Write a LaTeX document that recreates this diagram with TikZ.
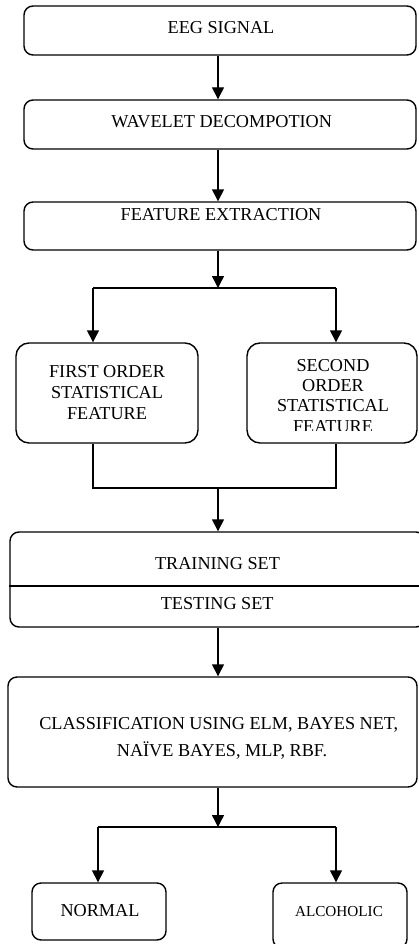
\documentclass[tikz,border=0pt]{standalone}
\usepackage{fontspec}
\setmainfont{Liberation Serif}
\usetikzlibrary{arrows.meta}

\tikzset{
  box/.style={draw, line width=1.4pt, rounded corners=9pt, inner sep=0pt},
  statbox/.style={box, rounded corners=13pt},
  conn/.style={line width=1.4pt},
  arr/.style={conn, -{Triangle[length=12pt,width=12pt]}},
  lbl/.style={inner sep=0pt, anchor=base, font=\fontsize{18.2}{21}\selectfont},
  smalllbl/.style={lbl, font=\fontsize{15.2}{18}\selectfont},
}

\begin{document}
\begin{tikzpicture}[x=1pt,y=-1pt]
\useasboundingbox (0,0) rectangle (419,944);

% process boxes
\node[box, minimum width=392pt, minimum height=49pt] (eeg) at (220,30.5) {};
\node[box, minimum width=392pt, minimum height=49pt] (wav) at (220,124.5) {};
\node[box, minimum width=392pt, minimum height=48pt] (fex) at (220,226) {};
\node[statbox, minimum width=182pt, minimum height=100pt] (fo) at (107,393) {};
\node[statbox, minimum width=170pt, minimum height=100pt] (so) at (332,393) {};
\node[box, minimum width=415pt, minimum height=95pt] (tr) at (217.5,579.5) {};
\node[box, minimum width=409pt, minimum height=110pt] (cls) at (212.5,732) {};
\node[box, minimum width=134pt, minimum height=57pt] (nor) at (99,911.5) {};
\node[box, minimum width=134pt, minimum height=65pt] (alc) at (340,915.5) {};

% divider between training and testing sets
\draw[conn] (tr.west |- 0,586) -- (tr.east |- 0,586);

% labels
\node[lbl] (teeg) at (221,33.3) {EEG SIGNAL};
\node[lbl] (twav) at (221.7,127.7) {WAVELET DECOMPOTION};
\node[lbl] (tfex) at (221,220) {FEATURE EXTRACTION};
\node[lbl] (tfo1) at (107,377.3) {FIRST ORDER};
\node[lbl] (tfo2) at (107,398.3) {STATISTICAL};
\node[lbl] (tfo3) at (107,419.3) {FEATURE};
\node[lbl] (tso1) at (333,371) {SECOND};
\node[lbl] (tso2) at (333,391.7) {ORDER};
\node[lbl] (tso3) at (333,411.7) {STATISTICAL};
\begin{scope}
  \clip (247,343) rectangle (417,430);
  \node[lbl] (tso4) at (333,432.3) {FEATURE};
\end{scope}
\node[lbl] (ttr) at (217.5,569) {TRAINING SET};
\node[lbl] (tte) at (217.2,609.3) {TESTING SET};
\node[lbl] (tcl1) at (218.8,729.3) {CLASSIFICATION USING ELM, BAYES NET,};
\node[lbl] (tcl2) at (222,756.7) {NAÏVE BAYES, MLP, RBF.};
\node[lbl] (tnor) at (100,916) {NORMAL};
\node[smalllbl] (talc) at (339,916) {ALCOHOLIC};

% connector waypoints
\coordinate (mid) at (218,0);
\coordinate (sl) at (93,288);
\coordinate (sr) at (336,288);
\coordinate (ml) at (93,488);
\coordinate (mr) at (336,488);
\coordinate (ol) at (98,827);
\coordinate (or) at (336,827);

% connectors
\draw[arr] (mid |- eeg.south) -- (mid |- wav.north);
\draw[arr] (mid |- wav.south) -- (mid |- fex.north);
\draw[arr] (mid |- fex.south) -- (mid |- sl);
\draw[conn] (sl) -- (sr);
\draw[arr] (sl) -- (sl |- fo.north);
\draw[arr] (sr) -- (sr |- so.north);
\draw[conn] (sl |- fo.south) -- (ml) -- (mr) -- (sr |- so.south);
\draw[arr] (mid |- ml) -- (mid |- tr.north);
\draw[arr] (mid |- tr.south) -- (mid |- cls.north);
\draw[arr] (mid |- cls.south) -- (mid |- ol);
\draw[conn] (ol) -- (or);
\draw[arr] (ol) -- (ol |- nor.north);
\draw[arr] (or) -- (or |- alc.north);
\end{tikzpicture}
\end{document}
